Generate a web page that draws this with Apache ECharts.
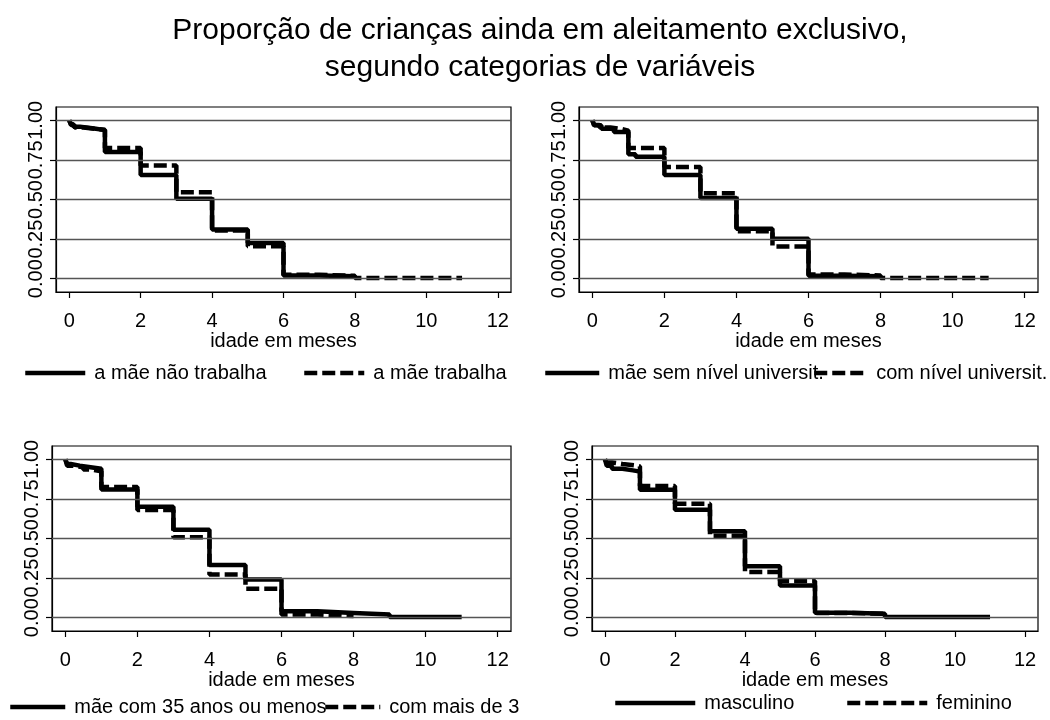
<!DOCTYPE html>
<html>
<head>
<meta charset="utf-8">
<script src="https://cdn.jsdelivr.net/npm/echarts@6/dist/echarts.min.js"></script>
<style>html,body{margin:0;padding:0;background:#fff}#c{width:1050px;height:720px}</style>
</head>
<body>
<div id="c"></div>
<script>
// ---- data ----
const titleLines = ['Proporção de crianças ainda em aleitamento exclusivo,', 'segundo categorias de variáveis'];
const xTicks = [0, 2, 4, 6, 8, 10, 12];
const yTicks = [0, 0.25, 0.5, 0.75, 1];
const xTitle = 'idade em meses';

const names1 = ['a mãe não trabalha', 'a mãe trabalha'];
const p1Solid = [[0,1],[0.05,0.975],[0.12,0.96],[0.3,0.948],[0.7,0.938],[1,0.80],[2,0.655],[3,0.505],[4,0.31],[5,0.225],[6,0.02],[7,0.015],[8,0.01]];
const p1Dash  = [[0,1],[0.05,0.97],[0.15,0.955],[0.4,0.945],[0.8,0.94],[1,0.825],[2,0.715],[3,0.545],[4,0.305],[5,0.205],[6,0.025],[7,0.018],[8,0.005],[11,0.005]];

const names2 = ['mãe sem nível universit.', 'com nível universit.'];
const p2Solid = [[0,1],[0.05,0.968],[0.25,0.947],[0.6,0.926],[1,0.785],[1.2,0.77],[2,0.655],[3,0.51],[4,0.315],[5,0.252],[6,0.018],[7,0.016],[8,0.01]];
const p2Dash  = [[0,1],[0.05,0.97],[0.2,0.955],[0.5,0.945],[0.8,0.935],[1,0.825],[2,0.705],[3,0.54],[4,0.30],[5,0.203],[6,0.027],[7,0.02],[8,0.005],[11,0.005]];

const names3 = ['mãe com 35 anos ou menos', 'com mais de 35'];
const p3Solid = [[0,1],[0.05,0.97],[0.15,0.96],[0.4,0.95],[0.7,0.94],[1,0.81],[2,0.70],[3,0.555],[4,0.333],[5,0.241],[6,0.04],[7,0.03],[8,0.02],[9,0.005],[11,0.005]];
const p3Dash  = [[0,1],[0.05,0.96],[0.2,0.95],[0.5,0.935],[0.7,0.925],[1,0.825],[2,0.68],[3,0.508],[4,0.273],[5,0.182],[6,0.02],[7,0.01],[8,0.008]];

const names4 = ['masculino', 'feminino'];
const p4Solid = [[0,1],[0.05,0.96],[0.2,0.94],[0.5,0.93],[0.8,0.922],[1,0.807],[2,0.681],[3,0.545],[4,0.325],[5,0.203],[6,0.031],[7,0.025],[8,0.005],[11,0.005]];
const p4Dash  = [[0,1],[0.05,0.98],[0.2,0.97],[0.5,0.96],[0.9,0.955],[1,0.832],[2,0.719],[3,0.518],[4,0.289],[5,0.231],[6,0.03],[7,0.025],[8,0.01]];

// ---- layout ----
const panels = [
  {grid:{left:56, top:107, width:455, height:185}, names:names1, data:[p1Solid,p1Dash],
   leg:[{left:23, y:374},{left:302, y:374}], legW:[60,60]},
  {grid:{left:579, top:107, width:459, height:185}, names:names2, data:[p2Solid,p2Dash],
   leg:[{left:543, y:374},{left:812, y:374}], legW:[54,53]},
  {grid:{left:52, top:446, width:459, height:185}, names:names3, data:[p3Solid,p3Dash],
   leg:[{left:8, y:708},{left:323, y:708}], legW:[55,55]},
  {grid:{left:592, top:446, width:446, height:185}, names:names4, data:[p4Solid,p4Dash],
   leg:[{left:613, y:704},{left:845, y:704}], legW:[80,80]}
];

const FONT = 'Liberation Sans, Arial, sans-serif';
const solidStyle = {color:'#000', width:4.5, type:'solid'};
const dashStyle = {color:'#000', width:4.5, type:[13,5]};

const grids = [], xAxes = [], yAxes = [], series = [], legends = [];
panels.forEach((p, i) => {
  grids.push(Object.assign({show:true, borderColor:'#000', borderWidth:1.2, backgroundColor:'transparent', containLabel:false}, p.grid));
  xAxes.push({
    type:'value', gridIndex:i, min:-0.37, max:12.37,
    name:xTitle, nameLocation:'middle', nameGap:36,
    nameTextStyle:{fontFamily:FONT, fontSize:20, color:'#000'},
    axisLine:{show:true, onZero:false, lineStyle:{color:'#000', width:1.2}},
    axisTick:{show:true, customValues:xTicks, length:6, lineStyle:{color:'#000', width:1.2}},
    axisLabel:{customValues:xTicks, fontFamily:FONT, fontSize:20, color:'#000', margin:19},
    splitLine:{show:false}
  });
  yAxes.push({
    type:'value', gridIndex:i, min:-0.084, max:1.084,
    axisLine:{show:true, onZero:false, lineStyle:{color:'#000', width:1.2}},
    axisTick:{show:true, customValues:yTicks, length:6, lineStyle:{color:'#000', width:1.2}},
    axisLabel:{customValues:yTicks, rotate:90, fontFamily:FONT, fontSize:20, color:'#000', margin:10,
      formatter:v => v.toFixed(2)},
    splitLine:{show:false}
  });
  // horizontal reference lines at the tick values
  series.push({
    type:'line', xAxisIndex:i, yAxisIndex:i, data:[], silent:true, symbol:'none',
    markLine:{symbol:'none', silent:true, label:{show:false},
      lineStyle:{color:'#555', width:1.3, type:'solid'},
      data:yTicks.map(v => ({yAxis:v}))}
  });
  p.names.forEach((nm, k) => {
    const ls = k === 0 ? solidStyle : dashStyle;
    series.push({
      name:nm, type:'line', xAxisIndex:i, yAxisIndex:i, step:'end', symbol:'none',
      data:p.data[k], lineStyle:ls, itemStyle:{color:'#000'},
      emphasis:{disabled:true}, z:3+k
    });
    const leg = p.leg[k];
    const legendDef = {
      data:[nm], left:leg.left, top:leg.y - 11, padding:0,
      itemWidth:p.legW[k], itemHeight:22, selectedMode:false,
      itemStyle:{opacity:0},
      lineStyle:{width:4.5, color:'#000', type:ls.type},
      textStyle:{fontFamily:FONT, fontSize:20, color:'#000', padding:[0,0,0,4]}
    };
    if (nm === 'com mais de 35') {
      legendDef.textStyle.width = 136;
      legendDef.textStyle.overflow = 'truncate';
      legendDef.textStyle.ellipsis = '';
    }
    legends.push(legendDef);
  });
});

const chart = echarts.init(document.getElementById('c'), null, {renderer:'canvas'});
chart.setOption({
  animation:false,
  backgroundColor:'#fff',
  textStyle:{fontFamily:FONT},
  graphic:[
    {type:'text', x:540, y:31, style:{text:titleLines[0], font:'30px ' + FONT, fill:'#000', textAlign:'center', textVerticalAlign:'middle'}},
    {type:'text', x:540, y:68, style:{text:titleLines[1], font:'30px ' + FONT, fill:'#000', textAlign:'center', textVerticalAlign:'middle'}}
  ],
  grid:grids, xAxis:xAxes, yAxis:yAxes, legend:legends, series:series
});
</script>
</body>
</html>
